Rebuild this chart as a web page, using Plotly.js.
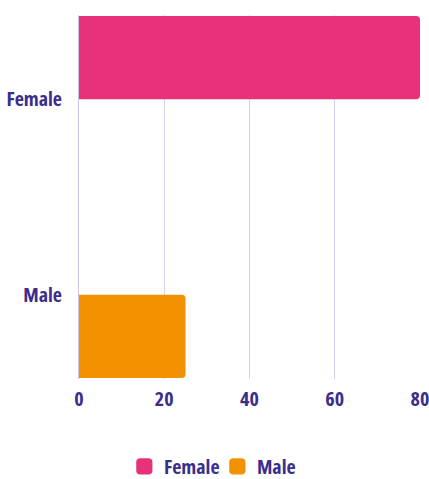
<!DOCTYPE html>
<html>
<head>
<meta charset="utf-8">
<script src="https://cdn.plot.ly/plotly-3.0.1.min.js"></script>
<style>
html,body{margin:0;padding:0;background:#fff;}
#chart{width:429px;height:479px;}
#chart text{font-stretch:75% !important;}
#chart .legendpoints path{transform-box:fill-box;transform-origin:center;scale:1.35;translate:-4px 0;}
</style>
</head>
<body>
<div id="chart"></div>
<script>
const categories = ["Female", "Male"];
const femaleValues = [80, 0];
const maleValues = [0, 25];
const xTicks = [0, 20, 40, 60, 80];

const FONT = '"Open Sans", "DejaVu Sans Condensed", sans-serif';
const TXT = '#3B2E8C';

const data = [
  {type: 'bar', orientation: 'h', name: 'Female', y: categories, x: femaleValues,
   marker: {color: '#E9317A'}, hoverinfo: 'x+y'},
  {type: 'bar', orientation: 'h', name: 'Male', y: categories, x: maleValues,
   marker: {color: '#F39200'}, hoverinfo: 'x+y'}
];

const layout = {
  width: 429, height: 479,
  margin: {l: 79, r: 9, t: 15, b: 100, autoexpand: false},
  paper_bgcolor: '#fff', plot_bgcolor: '#fff',
  barmode: 'group', bargap: 0.15, barcornerradius: 4,
  font: {family: FONT, color: TXT, size: 20, weight: 'bold'},
  xaxis: {range: [0, 80], tickvals: xTicks, ticktext: xTicks.map(String),
          showgrid: true, gridcolor: '#D6D3EE', gridwidth: 1, zeroline: false,
          showline: false, ticklabeloverflow: 'allow', automargin: false,
          ticks: 'outside', ticklen: 2, tickcolor: 'rgba(0,0,0,0)',
          tickfont: {family: FONT, color: TXT, size: 20, weight: 'bold'}},
  yaxis: {range: [1.43, -0.43], showgrid: false, zeroline: false,
          showline: true, linecolor: '#C9C5E8', linewidth: 1, automargin: false,
          ticklabelstandoff: 12,
          tickfont: {family: FONT, color: TXT, size: 20, weight: 'bold'}},
  legend: {orientation: 'h', xref: 'container', x: 0.487, xanchor: 'center',
           y: -0.24, yanchor: 'middle',
           entrywidth: 40, itemwidth: 38,
           font: {family: FONT, color: TXT, size: 20, weight: 'bold'}},
  showlegend: true
};

Plotly.newPlot('chart', data, layout, {displayModeBar: false, staticPlot: true});
</script>
</body>
</html>
